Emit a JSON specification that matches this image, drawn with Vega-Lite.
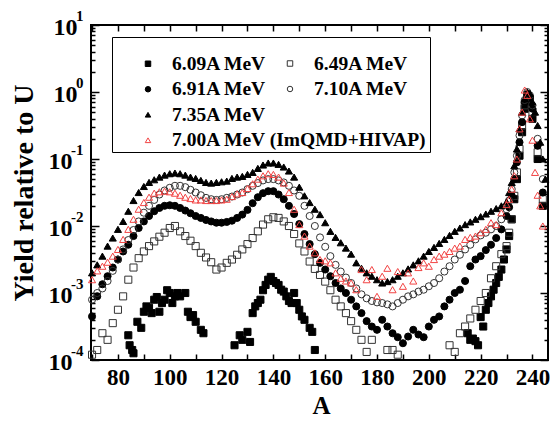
{
"$schema":"https://vega.github.io/schema/vega-lite/v6.json",
"autosize":"none","width":457,"height":335,
"padding":{"left":91,"top":25,"right":7,"bottom":61},
"background":"white",
"config":{"view":{"stroke":"black","strokeWidth":2},
"axis":{"domain":false,"grid":false,"tickColor":"black","tickWidth":1.5,"labelFont":"Liberation Serif","labelFontWeight":"bold","labelColor":"black","titleFont":"Liberation Serif","titleFontWeight":"bold","titleColor":"black"},
"legend":{"labelFont":"Liberation Serif","labelFontWeight":"bold","labelColor":"black","titleFont":"Liberation Serif","symbolOpacity":1}},
"data":{"values":[
{"s":"6.09A MeV","A":84,"y":0.000234},{"s":"6.09A MeV","A":84.5,"y":0.000166},{"s":"6.09A MeV","A":85.5,"y":0.000141},{"s":"6.09A MeV","A":86,"y":0.000126},{"s":"6.09A MeV","A":87.5,"y":0.000372},{"s":"6.09A MeV","A":89,"y":0.000302},{"s":"6.09A MeV","A":90,"y":0.000525},{"s":"6.09A MeV","A":91,"y":0.000631},{"s":"6.09A MeV","A":92,"y":0.000603},{"s":"6.09A MeV","A":93,"y":0.000501},{"s":"6.09A MeV","A":94,"y":0.000794},{"s":"6.09A MeV","A":95,"y":0.000871},{"s":"6.09A MeV","A":96,"y":0.000525},{"s":"6.09A MeV","A":97,"y":0.000708},{"s":"6.09A MeV","A":98,"y":0.000794},{"s":"6.09A MeV","A":99,"y":0.0011},{"s":"6.09A MeV","A":100,"y":0.001},{"s":"6.09A MeV","A":101,"y":0.000708},{"s":"6.09A MeV","A":102,"y":0.000891},{"s":"6.09A MeV","A":103,"y":0.001},{"s":"6.09A MeV","A":104,"y":0.000891},{"s":"6.09A MeV","A":106,"y":0.001},{"s":"6.09A MeV","A":107,"y":0.000525},{"s":"6.09A MeV","A":108,"y":0.000437},{"s":"6.09A MeV","A":109,"y":0.000468},{"s":"6.09A MeV","A":110,"y":0.000372},{"s":"6.09A MeV","A":112,"y":0.000282},{"s":"6.09A MeV","A":113,"y":0.000251},{"s":"6.09A MeV","A":125,"y":0.000166},{"s":"6.09A MeV","A":127,"y":0.000234},{"s":"6.09A MeV","A":128,"y":0.0002},{"s":"6.09A MeV","A":130,"y":0.000263},{"s":"6.09A MeV","A":131,"y":0.000186},{"s":"6.09A MeV","A":132,"y":0.000501},{"s":"6.09A MeV","A":133,"y":0.000631},{"s":"6.09A MeV","A":134,"y":0.000708},{"s":"6.09A MeV","A":135,"y":0.000794},{"s":"6.09A MeV","A":136,"y":0.0011},{"s":"6.09A MeV","A":137,"y":0.00132},{"s":"6.09A MeV","A":138,"y":0.00158},{"s":"6.09A MeV","A":139,"y":0.00174},{"s":"6.09A MeV","A":140,"y":0.00151},{"s":"6.09A MeV","A":141,"y":0.00141},{"s":"6.09A MeV","A":142,"y":0.00132},{"s":"6.09A MeV","A":143,"y":0.00112},{"s":"6.09A MeV","A":144,"y":0.00105},{"s":"6.09A MeV","A":145,"y":0.000891},{"s":"6.09A MeV","A":146,"y":0.000759},{"s":"6.09A MeV","A":147,"y":0.000708},{"s":"6.09A MeV","A":148,"y":0.001},{"s":"6.09A MeV","A":149,"y":0.000708},{"s":"6.09A MeV","A":150,"y":0.000562},{"s":"6.09A MeV","A":151,"y":0.000447},{"s":"6.09A MeV","A":152,"y":0.000398},{"s":"6.09A MeV","A":154,"y":0.000302},{"s":"6.09A MeV","A":155,"y":0.000263},{"s":"6.09A MeV","A":156,"y":0.000141},{"s":"6.09A MeV","A":215,"y":0.000251},{"s":"6.09A MeV","A":216,"y":0.0002},{"s":"6.09A MeV","A":217,"y":0.000209},{"s":"6.09A MeV","A":218,"y":0.000191},{"s":"6.09A MeV","A":219,"y":0.000166},{"s":"6.09A MeV","A":220,"y":0.000437},{"s":"6.09A MeV","A":221,"y":0.000316},{"s":"6.09A MeV","A":222,"y":0.000562},{"s":"6.09A MeV","A":223,"y":0.000708},{"s":"6.09A MeV","A":224,"y":0.000891},{"s":"6.09A MeV","A":225,"y":0.00112},{"s":"6.09A MeV","A":226,"y":0.00141},{"s":"6.09A MeV","A":227,"y":0.00174},{"s":"6.09A MeV","A":228,"y":0.00224},{"s":"6.09A MeV","A":229,"y":0.00316},{"s":"6.09A MeV","A":230,"y":0.00447},{"s":"6.09A MeV","A":231,"y":0.00708},{"s":"6.09A MeV","A":232,"y":0.0126},{"s":"6.09A MeV","A":233,"y":0.0251},{"s":"6.09A MeV","A":234,"y":0.0501},{"s":"6.09A MeV","A":235,"y":0.112},{"s":"6.09A MeV","A":236,"y":0.251},{"s":"6.09A MeV","A":237,"y":0.562},{"s":"6.09A MeV","A":238,"y":0.794},{"s":"6.09A MeV","A":239,"y":0.708},{"s":"6.09A MeV","A":240,"y":0.398},{"s":"6.09A MeV","A":242,"y":0.1},{"s":"6.09A MeV","A":244,"y":0.02},
{"s":"6.49A MeV","A":70,"y":0.00012},{"s":"6.49A MeV","A":72,"y":0.000141},{"s":"6.49A MeV","A":74,"y":0.000251},{"s":"6.49A MeV","A":76,"y":0.0002},{"s":"6.49A MeV","A":78,"y":0.000355},{"s":"6.49A MeV","A":80,"y":0.000562},{"s":"6.49A MeV","A":82,"y":0.000891},{"s":"6.49A MeV","A":84,"y":0.00158},{"s":"6.49A MeV","A":86,"y":0.0024},{"s":"6.49A MeV","A":88,"y":0.00331},{"s":"6.49A MeV","A":90,"y":0.00417},{"s":"6.49A MeV","A":92,"y":0.00501},{"s":"6.49A MeV","A":94,"y":0.00589},{"s":"6.49A MeV","A":96,"y":0.00692},{"s":"6.49A MeV","A":98,"y":0.00794},{"s":"6.49A MeV","A":100,"y":0.00933},{"s":"6.49A MeV","A":102,"y":0.01},{"s":"6.49A MeV","A":104,"y":0.00832},{"s":"6.49A MeV","A":106,"y":0.00708},{"s":"6.49A MeV","A":108,"y":0.00603},{"s":"6.49A MeV","A":110,"y":0.00501},{"s":"6.49A MeV","A":112,"y":0.00398},{"s":"6.49A MeV","A":114,"y":0.00339},{"s":"6.49A MeV","A":116,"y":0.00288},{"s":"6.49A MeV","A":118,"y":0.00224},{"s":"6.49A MeV","A":120,"y":0.0024},{"s":"6.49A MeV","A":122,"y":0.00282},{"s":"6.49A MeV","A":124,"y":0.00316},{"s":"6.49A MeV","A":126,"y":0.00372},{"s":"6.49A MeV","A":128,"y":0.00447},{"s":"6.49A MeV","A":130,"y":0.00537},{"s":"6.49A MeV","A":132,"y":0.00661},{"s":"6.49A MeV","A":134,"y":0.00832},{"s":"6.49A MeV","A":136,"y":0.0105},{"s":"6.49A MeV","A":138,"y":0.0126},{"s":"6.49A MeV","A":140,"y":0.0135},{"s":"6.49A MeV","A":142,"y":0.0132},{"s":"6.49A MeV","A":144,"y":0.0117},{"s":"6.49A MeV","A":146,"y":0.01},{"s":"6.49A MeV","A":148,"y":0.00759},{"s":"6.49A MeV","A":150,"y":0.0055},{"s":"6.49A MeV","A":152,"y":0.00417},{"s":"6.49A MeV","A":154,"y":0.00295},{"s":"6.49A MeV","A":156,"y":0.00229},{"s":"6.49A MeV","A":158,"y":0.00186},{"s":"6.49A MeV","A":160,"y":0.00148},{"s":"6.49A MeV","A":162,"y":0.0011},{"s":"6.49A MeV","A":164,"y":0.000794},{"s":"6.49A MeV","A":166,"y":0.000631},{"s":"6.49A MeV","A":168,"y":0.000501},{"s":"6.49A MeV","A":170,"y":0.00038},{"s":"6.49A MeV","A":172,"y":0.000282},{"s":"6.49A MeV","A":174,"y":0.0002},{"s":"6.49A MeV","A":176,"y":0.000132},{"s":"6.49A MeV","A":178,"y":0.0002},{"s":"6.49A MeV","A":184,"y":0.000141},{"s":"6.49A MeV","A":186,"y":0.000141},{"s":"6.49A MeV","A":188,"y":0.00012},{"s":"6.49A MeV","A":208,"y":0.000166},{"s":"6.49A MeV","A":210,"y":0.000132},{"s":"6.49A MeV","A":212,"y":0.000251},{"s":"6.49A MeV","A":214,"y":0.000316},{"s":"6.49A MeV","A":216,"y":0.000417},{"s":"6.49A MeV","A":218,"y":0.000562},{"s":"6.49A MeV","A":220,"y":0.000759},{"s":"6.49A MeV","A":222,"y":0.001},{"s":"6.49A MeV","A":224,"y":0.00166},{"s":"6.49A MeV","A":226,"y":0.00251},{"s":"6.49A MeV","A":228,"y":0.0038},{"s":"6.49A MeV","A":230,"y":0.00501},{"s":"6.49A MeV","A":231,"y":0.00794},{"s":"6.49A MeV","A":232,"y":0.0126},{"s":"6.49A MeV","A":233,"y":0.0282},{"s":"6.49A MeV","A":234,"y":0.0631},{"s":"6.49A MeV","A":235,"y":0.141},{"s":"6.49A MeV","A":236,"y":0.316},{"s":"6.49A MeV","A":237,"y":0.631},{"s":"6.49A MeV","A":238,"y":0.891},{"s":"6.49A MeV","A":239,"y":0.794},{"s":"6.49A MeV","A":240,"y":0.501},{"s":"6.49A MeV","A":242,"y":0.126},{"s":"6.49A MeV","A":244,"y":0.0251},
{"s":"6.91A MeV","A":70,"y":0.000447},{"s":"6.91A MeV","A":72,"y":0.000891},{"s":"6.91A MeV","A":74,"y":0.00135},{"s":"6.91A MeV","A":76,"y":0.00178},{"s":"6.91A MeV","A":78,"y":0.0024},{"s":"6.91A MeV","A":80,"y":0.00316},{"s":"6.91A MeV","A":82,"y":0.00417},{"s":"6.91A MeV","A":84,"y":0.00525},{"s":"6.91A MeV","A":86,"y":0.00708},{"s":"6.91A MeV","A":88,"y":0.00933},{"s":"6.91A MeV","A":90,"y":0.0117},{"s":"6.91A MeV","A":92,"y":0.0141},{"s":"6.91A MeV","A":94,"y":0.0166},{"s":"6.91A MeV","A":96,"y":0.0186},{"s":"6.91A MeV","A":98,"y":0.02},{"s":"6.91A MeV","A":100,"y":0.0204},{"s":"6.91A MeV","A":102,"y":0.02},{"s":"6.91A MeV","A":104,"y":0.0186},{"s":"6.91A MeV","A":106,"y":0.017},{"s":"6.91A MeV","A":108,"y":0.0155},{"s":"6.91A MeV","A":110,"y":0.0141},{"s":"6.91A MeV","A":112,"y":0.0132},{"s":"6.91A MeV","A":114,"y":0.0123},{"s":"6.91A MeV","A":116,"y":0.0117},{"s":"6.91A MeV","A":118,"y":0.0112},{"s":"6.91A MeV","A":120,"y":0.0112},{"s":"6.91A MeV","A":122,"y":0.0115},{"s":"6.91A MeV","A":124,"y":0.012},{"s":"6.91A MeV","A":126,"y":0.0132},{"s":"6.91A MeV","A":128,"y":0.0148},{"s":"6.91A MeV","A":130,"y":0.0174},{"s":"6.91A MeV","A":132,"y":0.0219},{"s":"6.91A MeV","A":134,"y":0.0269},{"s":"6.91A MeV","A":136,"y":0.0309},{"s":"6.91A MeV","A":138,"y":0.0331},{"s":"6.91A MeV","A":140,"y":0.0331},{"s":"6.91A MeV","A":142,"y":0.0295},{"s":"6.91A MeV","A":144,"y":0.0251},{"s":"6.91A MeV","A":146,"y":0.02},{"s":"6.91A MeV","A":148,"y":0.0151},{"s":"6.91A MeV","A":150,"y":0.0107},{"s":"6.91A MeV","A":152,"y":0.00759},{"s":"6.91A MeV","A":154,"y":0.00537},{"s":"6.91A MeV","A":156,"y":0.0038},{"s":"6.91A MeV","A":158,"y":0.00282},{"s":"6.91A MeV","A":160,"y":0.00224},{"s":"6.91A MeV","A":162,"y":0.00178},{"s":"6.91A MeV","A":164,"y":0.00141},{"s":"6.91A MeV","A":166,"y":0.00117},{"s":"6.91A MeV","A":168,"y":0.001},{"s":"6.91A MeV","A":170,"y":0.000794},{"s":"6.91A MeV","A":172,"y":0.000631},{"s":"6.91A MeV","A":174,"y":0.000501},{"s":"6.91A MeV","A":176,"y":0.00038},{"s":"6.91A MeV","A":178,"y":0.000316},{"s":"6.91A MeV","A":180,"y":0.000282},{"s":"6.91A MeV","A":182,"y":0.000398},{"s":"6.91A MeV","A":184,"y":0.000316},{"s":"6.91A MeV","A":186,"y":0.000251},{"s":"6.91A MeV","A":188,"y":0.000219},{"s":"6.91A MeV","A":190,"y":0.000178},{"s":"6.91A MeV","A":192,"y":0.000224},{"s":"6.91A MeV","A":194,"y":0.000282},{"s":"6.91A MeV","A":196,"y":0.00024},{"s":"6.91A MeV","A":198,"y":0.000219},{"s":"6.91A MeV","A":200,"y":0.000316},{"s":"6.91A MeV","A":202,"y":0.000398},{"s":"6.91A MeV","A":204,"y":0.000447},{"s":"6.91A MeV","A":206,"y":0.000631},{"s":"6.91A MeV","A":208,"y":0.000794},{"s":"6.91A MeV","A":210,"y":0.001},{"s":"6.91A MeV","A":212,"y":0.00112},{"s":"6.91A MeV","A":214,"y":0.00151},{"s":"6.91A MeV","A":216,"y":0.00251},{"s":"6.91A MeV","A":218,"y":0.00316},{"s":"6.91A MeV","A":220,"y":0.00355},{"s":"6.91A MeV","A":222,"y":0.00437},{"s":"6.91A MeV","A":224,"y":0.00525},{"s":"6.91A MeV","A":226,"y":0.00661},{"s":"6.91A MeV","A":228,"y":0.00891},{"s":"6.91A MeV","A":230,"y":0.0141},{"s":"6.91A MeV","A":231,"y":0.0191},{"s":"6.91A MeV","A":232,"y":0.0282},{"s":"6.91A MeV","A":233,"y":0.0501},{"s":"6.91A MeV","A":234,"y":0.0891},{"s":"6.91A MeV","A":235,"y":0.178},{"s":"6.91A MeV","A":236,"y":0.355},{"s":"6.91A MeV","A":237,"y":0.708},{"s":"6.91A MeV","A":238,"y":0.933},{"s":"6.91A MeV","A":239,"y":0.832},{"s":"6.91A MeV","A":240,"y":0.562},{"s":"6.91A MeV","A":242,"y":0.158},{"s":"6.91A MeV","A":244,"y":0.0316},
{"s":"7.10A MeV","A":70,"y":0.000794},{"s":"7.10A MeV","A":72,"y":0.001},{"s":"7.10A MeV","A":74,"y":0.00117},{"s":"7.10A MeV","A":76,"y":0.00151},{"s":"7.10A MeV","A":78,"y":0.00214},{"s":"7.10A MeV","A":80,"y":0.00316},{"s":"7.10A MeV","A":82,"y":0.00447},{"s":"7.10A MeV","A":84,"y":0.00617},{"s":"7.10A MeV","A":86,"y":0.00871},{"s":"7.10A MeV","A":88,"y":0.0117},{"s":"7.10A MeV","A":90,"y":0.0158},{"s":"7.10A MeV","A":92,"y":0.02},{"s":"7.10A MeV","A":94,"y":0.0245},{"s":"7.10A MeV","A":96,"y":0.0295},{"s":"7.10A MeV","A":98,"y":0.0339},{"s":"7.10A MeV","A":100,"y":0.0372},{"s":"7.10A MeV","A":102,"y":0.0398},{"s":"7.10A MeV","A":104,"y":0.0398},{"s":"7.10A MeV","A":106,"y":0.038},{"s":"7.10A MeV","A":108,"y":0.0347},{"s":"7.10A MeV","A":110,"y":0.0316},{"s":"7.10A MeV","A":112,"y":0.0288},{"s":"7.10A MeV","A":114,"y":0.0263},{"s":"7.10A MeV","A":116,"y":0.0251},{"s":"7.10A MeV","A":118,"y":0.0245},{"s":"7.10A MeV","A":120,"y":0.0251},{"s":"7.10A MeV","A":122,"y":0.0263},{"s":"7.10A MeV","A":124,"y":0.0275},{"s":"7.10A MeV","A":126,"y":0.0295},{"s":"7.10A MeV","A":128,"y":0.0316},{"s":"7.10A MeV","A":130,"y":0.0355},{"s":"7.10A MeV","A":132,"y":0.0398},{"s":"7.10A MeV","A":134,"y":0.0437},{"s":"7.10A MeV","A":136,"y":0.0479},{"s":"7.10A MeV","A":138,"y":0.0501},{"s":"7.10A MeV","A":140,"y":0.0501},{"s":"7.10A MeV","A":142,"y":0.0479},{"s":"7.10A MeV","A":144,"y":0.0447},{"s":"7.10A MeV","A":146,"y":0.0398},{"s":"7.10A MeV","A":148,"y":0.0339},{"s":"7.10A MeV","A":150,"y":0.0282},{"s":"7.10A MeV","A":152,"y":0.02},{"s":"7.10A MeV","A":154,"y":0.0141},{"s":"7.10A MeV","A":156,"y":0.01},{"s":"7.10A MeV","A":158,"y":0.00676},{"s":"7.10A MeV","A":160,"y":0.0049},{"s":"7.10A MeV","A":162,"y":0.00355},{"s":"7.10A MeV","A":164,"y":0.00263},{"s":"7.10A MeV","A":166,"y":0.00209},{"s":"7.10A MeV","A":168,"y":0.0017},{"s":"7.10A MeV","A":170,"y":0.00141},{"s":"7.10A MeV","A":172,"y":0.00117},{"s":"7.10A MeV","A":174,"y":0.000955},{"s":"7.10A MeV","A":176,"y":0.000832},{"s":"7.10A MeV","A":178,"y":0.000759},{"s":"7.10A MeV","A":180,"y":0.000724},{"s":"7.10A MeV","A":182,"y":0.000708},{"s":"7.10A MeV","A":184,"y":0.000676},{"s":"7.10A MeV","A":186,"y":0.000631},{"s":"7.10A MeV","A":188,"y":0.000708},{"s":"7.10A MeV","A":190,"y":0.000794},{"s":"7.10A MeV","A":192,"y":0.000891},{"s":"7.10A MeV","A":194,"y":0.000955},{"s":"7.10A MeV","A":196,"y":0.00105},{"s":"7.10A MeV","A":198,"y":0.00112},{"s":"7.10A MeV","A":200,"y":0.00126},{"s":"7.10A MeV","A":202,"y":0.00141},{"s":"7.10A MeV","A":204,"y":0.00166},{"s":"7.10A MeV","A":206,"y":0.00209},{"s":"7.10A MeV","A":208,"y":0.00251},{"s":"7.10A MeV","A":210,"y":0.00316},{"s":"7.10A MeV","A":212,"y":0.00372},{"s":"7.10A MeV","A":214,"y":0.00447},{"s":"7.10A MeV","A":216,"y":0.00525},{"s":"7.10A MeV","A":218,"y":0.00631},{"s":"7.10A MeV","A":220,"y":0.00724},{"s":"7.10A MeV","A":222,"y":0.00794},{"s":"7.10A MeV","A":224,"y":0.00891},{"s":"7.10A MeV","A":226,"y":0.01},{"s":"7.10A MeV","A":228,"y":0.0126},{"s":"7.10A MeV","A":230,"y":0.0178},{"s":"7.10A MeV","A":231,"y":0.024},{"s":"7.10A MeV","A":232,"y":0.0355},{"s":"7.10A MeV","A":233,"y":0.0631},{"s":"7.10A MeV","A":234,"y":0.112},{"s":"7.10A MeV","A":235,"y":0.224},{"s":"7.10A MeV","A":236,"y":0.447},{"s":"7.10A MeV","A":237,"y":0.759},{"s":"7.10A MeV","A":238,"y":1.0},{"s":"7.10A MeV","A":239,"y":0.891},{"s":"7.10A MeV","A":240,"y":0.631},{"s":"7.10A MeV","A":242,"y":0.2},{"s":"7.10A MeV","A":244,"y":0.0501},
{"s":"7.35A MeV","A":70,"y":0.002},{"s":"7.35A MeV","A":72,"y":0.00263},{"s":"7.35A MeV","A":74,"y":0.00355},{"s":"7.35A MeV","A":76,"y":0.00501},{"s":"7.35A MeV","A":78,"y":0.00661},{"s":"7.35A MeV","A":80,"y":0.00891},{"s":"7.35A MeV","A":82,"y":0.0117},{"s":"7.35A MeV","A":84,"y":0.0166},{"s":"7.35A MeV","A":86,"y":0.024},{"s":"7.35A MeV","A":88,"y":0.0316},{"s":"7.35A MeV","A":90,"y":0.0389},{"s":"7.35A MeV","A":92,"y":0.0447},{"s":"7.35A MeV","A":94,"y":0.049},{"s":"7.35A MeV","A":96,"y":0.0537},{"s":"7.35A MeV","A":98,"y":0.0575},{"s":"7.35A MeV","A":100,"y":0.0603},{"s":"7.35A MeV","A":102,"y":0.0617},{"s":"7.35A MeV","A":104,"y":0.0603},{"s":"7.35A MeV","A":106,"y":0.0575},{"s":"7.35A MeV","A":108,"y":0.0537},{"s":"7.35A MeV","A":110,"y":0.0513},{"s":"7.35A MeV","A":112,"y":0.0479},{"s":"7.35A MeV","A":114,"y":0.0447},{"s":"7.35A MeV","A":116,"y":0.0437},{"s":"7.35A MeV","A":118,"y":0.0447},{"s":"7.35A MeV","A":120,"y":0.0457},{"s":"7.35A MeV","A":122,"y":0.0468},{"s":"7.35A MeV","A":124,"y":0.0513},{"s":"7.35A MeV","A":126,"y":0.0537},{"s":"7.35A MeV","A":128,"y":0.055},{"s":"7.35A MeV","A":130,"y":0.0589},{"s":"7.35A MeV","A":132,"y":0.0631},{"s":"7.35A MeV","A":134,"y":0.0724},{"s":"7.35A MeV","A":136,"y":0.0813},{"s":"7.35A MeV","A":138,"y":0.0871},{"s":"7.35A MeV","A":140,"y":0.0871},{"s":"7.35A MeV","A":142,"y":0.0832},{"s":"7.35A MeV","A":144,"y":0.0759},{"s":"7.35A MeV","A":146,"y":0.0661},{"s":"7.35A MeV","A":148,"y":0.0537},{"s":"7.35A MeV","A":150,"y":0.038},{"s":"7.35A MeV","A":152,"y":0.0282},{"s":"7.35A MeV","A":154,"y":0.0224},{"s":"7.35A MeV","A":156,"y":0.0178},{"s":"7.35A MeV","A":158,"y":0.0148},{"s":"7.35A MeV","A":160,"y":0.0112},{"s":"7.35A MeV","A":162,"y":0.00832},{"s":"7.35A MeV","A":164,"y":0.00676},{"s":"7.35A MeV","A":166,"y":0.00562},{"s":"7.35A MeV","A":168,"y":0.00468},{"s":"7.35A MeV","A":170,"y":0.0038},{"s":"7.35A MeV","A":172,"y":0.00282},{"s":"7.35A MeV","A":174,"y":0.00234},{"s":"7.35A MeV","A":176,"y":0.002},{"s":"7.35A MeV","A":178,"y":0.00178},{"s":"7.35A MeV","A":180,"y":0.00158},{"s":"7.35A MeV","A":182,"y":0.00141},{"s":"7.35A MeV","A":184,"y":0.00148},{"s":"7.35A MeV","A":186,"y":0.00158},{"s":"7.35A MeV","A":188,"y":0.00178},{"s":"7.35A MeV","A":190,"y":0.002},{"s":"7.35A MeV","A":192,"y":0.00229},{"s":"7.35A MeV","A":194,"y":0.00263},{"s":"7.35A MeV","A":196,"y":0.00302},{"s":"7.35A MeV","A":198,"y":0.00355},{"s":"7.35A MeV","A":200,"y":0.00417},{"s":"7.35A MeV","A":202,"y":0.00479},{"s":"7.35A MeV","A":204,"y":0.0055},{"s":"7.35A MeV","A":206,"y":0.00631},{"s":"7.35A MeV","A":208,"y":0.00724},{"s":"7.35A MeV","A":210,"y":0.00832},{"s":"7.35A MeV","A":212,"y":0.00933},{"s":"7.35A MeV","A":214,"y":0.0105},{"s":"7.35A MeV","A":216,"y":0.0115},{"s":"7.35A MeV","A":218,"y":0.0126},{"s":"7.35A MeV","A":220,"y":0.0138},{"s":"7.35A MeV","A":222,"y":0.0151},{"s":"7.35A MeV","A":224,"y":0.0166},{"s":"7.35A MeV","A":226,"y":0.0182},{"s":"7.35A MeV","A":228,"y":0.02},{"s":"7.35A MeV","A":230,"y":0.0229},{"s":"7.35A MeV","A":231,"y":0.0316},{"s":"7.35A MeV","A":232,"y":0.0447},{"s":"7.35A MeV","A":233,"y":0.0794},{"s":"7.35A MeV","A":234,"y":0.141},{"s":"7.35A MeV","A":235,"y":0.282},{"s":"7.35A MeV","A":236,"y":0.501},{"s":"7.35A MeV","A":237,"y":0.794},{"s":"7.35A MeV","A":238,"y":1.0},{"s":"7.35A MeV","A":239,"y":0.955},{"s":"7.35A MeV","A":240,"y":0.708},{"s":"7.35A MeV","A":241,"y":0.501},{"s":"7.35A MeV","A":242,"y":0.316},{"s":"7.35A MeV","A":243,"y":0.178},{"s":"7.35A MeV","A":244,"y":0.1},{"s":"7.35A MeV","A":245,"y":0.0501},
{"s":"7.00A MeV (ImQMD+HIVAP)","A":70,"y":0.00158},{"s":"7.00A MeV (ImQMD+HIVAP)","A":72,"y":0.00214},{"s":"7.00A MeV (ImQMD+HIVAP)","A":74,"y":0.00251},{"s":"7.00A MeV (ImQMD+HIVAP)","A":76,"y":0.00288},{"s":"7.00A MeV (ImQMD+HIVAP)","A":78,"y":0.00355},{"s":"7.00A MeV (ImQMD+HIVAP)","A":80,"y":0.00447},{"s":"7.00A MeV (ImQMD+HIVAP)","A":82,"y":0.00631},{"s":"7.00A MeV (ImQMD+HIVAP)","A":84,"y":0.00891},{"s":"7.00A MeV (ImQMD+HIVAP)","A":86,"y":0.0126},{"s":"7.00A MeV (ImQMD+HIVAP)","A":88,"y":0.0178},{"s":"7.00A MeV (ImQMD+HIVAP)","A":90,"y":0.0224},{"s":"7.00A MeV (ImQMD+HIVAP)","A":92,"y":0.0269},{"s":"7.00A MeV (ImQMD+HIVAP)","A":94,"y":0.0309},{"s":"7.00A MeV (ImQMD+HIVAP)","A":96,"y":0.0324},{"s":"7.00A MeV (ImQMD+HIVAP)","A":98,"y":0.0331},{"s":"7.00A MeV (ImQMD+HIVAP)","A":100,"y":0.0324},{"s":"7.00A MeV (ImQMD+HIVAP)","A":102,"y":0.0309},{"s":"7.00A MeV (ImQMD+HIVAP)","A":104,"y":0.0288},{"s":"7.00A MeV (ImQMD+HIVAP)","A":106,"y":0.0269},{"s":"7.00A MeV (ImQMD+HIVAP)","A":108,"y":0.0257},{"s":"7.00A MeV (ImQMD+HIVAP)","A":110,"y":0.0245},{"s":"7.00A MeV (ImQMD+HIVAP)","A":112,"y":0.0245},{"s":"7.00A MeV (ImQMD+HIVAP)","A":114,"y":0.024},{"s":"7.00A MeV (ImQMD+HIVAP)","A":116,"y":0.024},{"s":"7.00A MeV (ImQMD+HIVAP)","A":118,"y":0.024},{"s":"7.00A MeV (ImQMD+HIVAP)","A":120,"y":0.0245},{"s":"7.00A MeV (ImQMD+HIVAP)","A":122,"y":0.0251},{"s":"7.00A MeV (ImQMD+HIVAP)","A":124,"y":0.0275},{"s":"7.00A MeV (ImQMD+HIVAP)","A":126,"y":0.0302},{"s":"7.00A MeV (ImQMD+HIVAP)","A":128,"y":0.0316},{"s":"7.00A MeV (ImQMD+HIVAP)","A":130,"y":0.0363},{"s":"7.00A MeV (ImQMD+HIVAP)","A":132,"y":0.0427},{"s":"7.00A MeV (ImQMD+HIVAP)","A":134,"y":0.0501},{"s":"7.00A MeV (ImQMD+HIVAP)","A":136,"y":0.0562},{"s":"7.00A MeV (ImQMD+HIVAP)","A":138,"y":0.0603},{"s":"7.00A MeV (ImQMD+HIVAP)","A":140,"y":0.0589},{"s":"7.00A MeV (ImQMD+HIVAP)","A":142,"y":0.0537},{"s":"7.00A MeV (ImQMD+HIVAP)","A":144,"y":0.0437},{"s":"7.00A MeV (ImQMD+HIVAP)","A":146,"y":0.0316},{"s":"7.00A MeV (ImQMD+HIVAP)","A":148,"y":0.0178},{"s":"7.00A MeV (ImQMD+HIVAP)","A":150,"y":0.0105},{"s":"7.00A MeV (ImQMD+HIVAP)","A":152,"y":0.00708},{"s":"7.00A MeV (ImQMD+HIVAP)","A":154,"y":0.00501},{"s":"7.00A MeV (ImQMD+HIVAP)","A":156,"y":0.00398},{"s":"7.00A MeV (ImQMD+HIVAP)","A":158,"y":0.00316},{"s":"7.00A MeV (ImQMD+HIVAP)","A":160,"y":0.00302},{"s":"7.00A MeV (ImQMD+HIVAP)","A":162,"y":0.00282},{"s":"7.00A MeV (ImQMD+HIVAP)","A":164,"y":0.002},{"s":"7.00A MeV (ImQMD+HIVAP)","A":166,"y":0.00166},{"s":"7.00A MeV (ImQMD+HIVAP)","A":168,"y":0.00151},{"s":"7.00A MeV (ImQMD+HIVAP)","A":170,"y":0.00141},{"s":"7.00A MeV (ImQMD+HIVAP)","A":172,"y":0.00112},{"s":"7.00A MeV (ImQMD+HIVAP)","A":174,"y":0.00224},{"s":"7.00A MeV (ImQMD+HIVAP)","A":176,"y":0.00158},{"s":"7.00A MeV (ImQMD+HIVAP)","A":178,"y":0.00224},{"s":"7.00A MeV (ImQMD+HIVAP)","A":180,"y":0.000891},{"s":"7.00A MeV (ImQMD+HIVAP)","A":182,"y":0.00178},{"s":"7.00A MeV (ImQMD+HIVAP)","A":184,"y":0.00234},{"s":"7.00A MeV (ImQMD+HIVAP)","A":186,"y":0.00112},{"s":"7.00A MeV (ImQMD+HIVAP)","A":188,"y":0.00209},{"s":"7.00A MeV (ImQMD+HIVAP)","A":190,"y":0.00126},{"s":"7.00A MeV (ImQMD+HIVAP)","A":192,"y":0.002},{"s":"7.00A MeV (ImQMD+HIVAP)","A":194,"y":0.00151},{"s":"7.00A MeV (ImQMD+HIVAP)","A":196,"y":0.0024},{"s":"7.00A MeV (ImQMD+HIVAP)","A":198,"y":0.00282},{"s":"7.00A MeV (ImQMD+HIVAP)","A":200,"y":0.00251},{"s":"7.00A MeV (ImQMD+HIVAP)","A":202,"y":0.00316},{"s":"7.00A MeV (ImQMD+HIVAP)","A":204,"y":0.00355},{"s":"7.00A MeV (ImQMD+HIVAP)","A":206,"y":0.0038},{"s":"7.00A MeV (ImQMD+HIVAP)","A":208,"y":0.00417},{"s":"7.00A MeV (ImQMD+HIVAP)","A":210,"y":0.00468},{"s":"7.00A MeV (ImQMD+HIVAP)","A":212,"y":0.00501},{"s":"7.00A MeV (ImQMD+HIVAP)","A":214,"y":0.00631},{"s":"7.00A MeV (ImQMD+HIVAP)","A":216,"y":0.00676},{"s":"7.00A MeV (ImQMD+HIVAP)","A":218,"y":0.00708},{"s":"7.00A MeV (ImQMD+HIVAP)","A":220,"y":0.00794},{"s":"7.00A MeV (ImQMD+HIVAP)","A":222,"y":0.00891},{"s":"7.00A MeV (ImQMD+HIVAP)","A":224,"y":0.0112},{"s":"7.00A MeV (ImQMD+HIVAP)","A":226,"y":0.0105},{"s":"7.00A MeV (ImQMD+HIVAP)","A":228,"y":0.0158},{"s":"7.00A MeV (ImQMD+HIVAP)","A":230,"y":0.0209},{"s":"7.00A MeV (ImQMD+HIVAP)","A":231,"y":0.0251},{"s":"7.00A MeV (ImQMD+HIVAP)","A":232,"y":0.0355},{"s":"7.00A MeV (ImQMD+HIVAP)","A":233,"y":0.0562},{"s":"7.00A MeV (ImQMD+HIVAP)","A":234,"y":0.1},{"s":"7.00A MeV (ImQMD+HIVAP)","A":235,"y":0.282},{"s":"7.00A MeV (ImQMD+HIVAP)","A":236,"y":0.501},{"s":"7.00A MeV (ImQMD+HIVAP)","A":237,"y":1.07},{"s":"7.00A MeV (ImQMD+HIVAP)","A":238,"y":0.891},{"s":"7.00A MeV (ImQMD+HIVAP)","A":239,"y":0.398},{"s":"7.00A MeV (ImQMD+HIVAP)","A":240,"y":0.191},{"s":"7.00A MeV (ImQMD+HIVAP)","A":241,"y":0.0631},{"s":"7.00A MeV (ImQMD+HIVAP)","A":242,"y":0.0288},{"s":"7.00A MeV (ImQMD+HIVAP)","A":243,"y":0.02},{"s":"7.00A MeV (ImQMD+HIVAP)","A":244,"y":0.01}
]},
"layer":[
{"mark":{"type":"point","size":50,"strokeWidth":1},
"encoding":{
"x":{"field":"A","type":"quantitative","scale":{"domain":[69.6,246],"nice":false,"zero":false},
"axis":{"orient":"bottom","title":"A","values":[70,80,90,100,110,120,130,140,150,160,170,180,190,200,210,220,230,240],"labelExpr":"datum.value % 20 == 0 ? datum.label : ''","tickSize":-6,"labelPadding":12,"labelFontSize":23,"titleFontSize":25,"titleX":230,"titleY":53,"titleBaseline":"alphabetic","titleAlign":"center"}},
"y":{"field":"y","type":"quantitative","scale":{"type":"log","domain":[0.0001,10],"nice":false},
"axis":{"orient":"left","title":"Yield relative to U","values":[0.0001,0.001,0.01,0.1,1,10],
"labelExpr":"'10'","ticks":false,"tickSize":0,
"labelPadding":{"condition":{"test":"datum.value >= 1","value":14},"value":19},"labelOffset":2,
"labelFontSize":24,"titleFontSize":28,"titleX":-59,"titleY":167.5,"titleAngle":-90,"titleBaseline":"alphabetic","titleAlign":"center"}},
"shape":{"field":"s","type":"nominal","scale":{"domain":["6.09A MeV","6.49A MeV","6.91A MeV","7.10A MeV","7.35A MeV","7.00A MeV (ImQMD+HIVAP)"],"range":["square","square","circle","circle","triangle-up","triangle-up"]},
"legend":{"orient":"none","legendX":21,"legendY":12,"direction":"vertical","values":["6.09A MeV","6.91A MeV","7.35A MeV","7.00A MeV (ImQMD+HIVAP)"],"title":" ","titleFontSize":10,"titlePadding":5,"padding":2,"symbolOffset":24.25,"labelOffset":14.25,"rowPadding":4.5,"strokeColor":"black","fillColor":"transparent","symbolSize":30,"symbolStrokeWidth":1,"symbolOpacity":1,"labelFontSize":19.5,"labelLimit":500,
"labelExpr":"datum.label == '7.00A MeV (ImQMD+HIVAP)' ? datum.label + '\u00a0\u00a0\u00a0\u00a0\u00a0\u00a0\u00a0\u00a0\u00a0\u00a0' : datum.label"}},
"fill":{"field":"s","type":"nominal","scale":{"domain":["6.09A MeV","6.49A MeV","6.91A MeV","7.10A MeV","7.35A MeV","7.00A MeV (ImQMD+HIVAP)"],"range":["black","transparent","black","transparent","black","transparent"]}},
"stroke":{"field":"s","type":"nominal","scale":{"domain":["6.09A MeV","6.49A MeV","6.91A MeV","7.10A MeV","7.35A MeV","7.00A MeV (ImQMD+HIVAP)"],"range":["black","#333333","black","#333333","black","#f24444"]}},
"opacity":{"field":"s","type":"nominal","scale":{"domain":["6.49A MeV","7.10A MeV","6.09A MeV","6.91A MeV","7.35A MeV","7.00A MeV (ImQMD+HIVAP)"],"range":[1,1,1,1,1,1]},
"legend":{"orient":"none","legendX":189.25,"legendY":28.75,"direction":"vertical","values":["6.49A MeV","7.10A MeV"],"title":null,"padding":0,"symbolOffset":0,"labelOffset":14.25,"rowPadding":4.5,"symbolSize":30,"symbolStrokeWidth":1,"symbolFillColor":"transparent","symbolStrokeColor":"#333333","symbolType":"circle","labelFontSize":19.5,"labelLimit":500,
"encode":{"symbols":{"update":{"shape":{"signal":"datum.value == '6.49A MeV' ? 'square' : 'circle'"}}}}}}
}},
{"mark":{"type":"point","opacity":0},
"encoding":{
"x":{"field":"A","type":"quantitative","axis":{"orient":"top","title":null,"labels":false,"values":[70,80,90,100,110,120,130,140,150,160,170,180,190,200,210,220,230,240],"tickSize":-6}},
"y":{"field":"y","type":"quantitative","axis":{"orient":"right","title":null,"labels":false,"values":[0.0001,0.0002,0.0003,0.0004,0.0005,0.0006,0.0007,0.0008,0.0009,0.001,0.002,0.003,0.004,0.005,0.006,0.007,0.008,0.009,0.01,0.02,0.03,0.04,0.05,0.06,0.07,0.08,0.09,0.1,0.2,0.3,0.4,0.5,0.6,0.7,0.8,0.9,1,2,3,4,5,6,7,8,9,10],
"tickSize":{"condition":{"test":"indexof([10,1,0.1,0.01,0.001,0.0001], datum.value) >= 0","value":-8},"value":-4}}}
}},
{"mark":{"type":"point","opacity":0},
"encoding":{
"x":{"field":"A","type":"quantitative","axis":null},
"y":{"field":"y","type":"quantitative","axis":{"orient":"left","title":null,"labels":false,"values":[0.0001,0.0002,0.0003,0.0004,0.0005,0.0006,0.0007,0.0008,0.0009,0.001,0.002,0.003,0.004,0.005,0.006,0.007,0.008,0.009,0.01,0.02,0.03,0.04,0.05,0.06,0.07,0.08,0.09,0.1,0.2,0.3,0.4,0.5,0.6,0.7,0.8,0.9,1,2,3,4,5,6,7,8,9,10],
"tickSize":{"condition":{"test":"indexof([10,1,0.1,0.01,0.001,0.0001], datum.value) >= 0","value":-8},"value":-4}}}
}},
{"mark":{"type":"point","opacity":0},
"encoding":{
"x":{"field":"A","type":"quantitative","axis":null},
"y":{"field":"y","type":"quantitative","axis":{"orient":"left","title":null,"values":[0.0001,0.001,0.01,0.1,1,10],"ticks":false,"tickSize":0,
"labelExpr":"datum.value == 10 ? '1' : datum.value == 1 ? '0' : datum.value == 0.1 ? '-1' : datum.value == 0.01 ? '-2' : datum.value == 0.001 ? '-3' : '-4'",
"labelPadding":8,"labelAlign":"right","labelFontSize":15,"labelOffset":-10}}
}}
],
"resolve":{"axis":{"x":"independent","y":"independent"}}
}
